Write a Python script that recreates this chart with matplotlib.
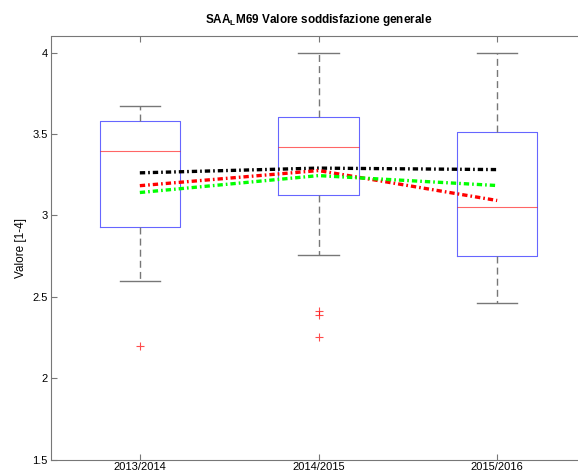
import matplotlib
matplotlib.use("Agg")
import matplotlib.pyplot as plt

plt.rcParams['font.family'] = ['Liberation Sans', 'DejaVu Sans']

# Dati
anni = ['2013/2014', '2014/2015', '2015/2016']
q1 = [2.93, 3.125, 2.75]
mediana = [3.395, 3.42, 3.055]
q3 = [3.58, 3.605, 3.51]
baffo_basso = [2.60, 2.76, 2.465]
baffo_alto = [3.67, 4.00, 4.00]
outlier = [[2.20], [2.41, 2.39, 2.25], []]

media_nera = [3.262, 3.291, 3.282]
media_rossa = [3.183, 3.276, 3.092]
media_verde = [3.141, 3.245, 3.184]

# Statistiche per bxp
stats = []
for i in range(len(anni)):
    stats.append({'med': mediana[i], 'q1': q1[i], 'q3': q3[i],
                  'whislo': baffo_basso[i], 'whishi': baffo_alto[i],
                  'fliers': outlier[i], 'label': anni[i]})

fig = plt.figure(figsize=(5.78, 4.75), dpi=100)
ax = fig.add_axes([50.5 / 578, 15.5 / 475, 536 / 578, 423 / 475])

pos = [1, 2, 3]
ax.bxp(stats, positions=pos, widths=0.45, showcaps=True,
       boxprops=dict(color='#0000ff', linewidth=0.8, alpha=0.6),
       medianprops=dict(color='#ff0000', linewidth=0.8, alpha=0.6),
       whiskerprops=dict(color='#777777', linewidth=1.0, linestyle=(0, (5, 3))),
       capprops=dict(color='#777777', linewidth=1.0),
       flierprops=dict(marker='+', markeredgecolor='#ff0000', markersize=6,
                       markeredgewidth=0.8, alpha=0.7))

tratto = (0, (1.6, 0.9, 0.5, 0.9))
ax.plot(pos, media_nera, color='black', linestyle=tratto, linewidth=2.4)
ax.plot(pos, media_rossa, color='#ff0000', linestyle=tratto, linewidth=2.4)
ax.plot(pos, media_verde, color='#00ff00', linestyle=tratto, linewidth=2.4)

ax.set_xlim(0.5, 3.5)
ax.set_ylim(1.5, 4.1)
ax.set_yticks([1.5, 2, 2.5, 3, 3.5, 4])
ax.set_yticklabels(['1.5', '2', '2.5', '3', '3.5', '4'])
ax.set_xticks(pos)
ax.set_xticklabels(anni)

ax.tick_params(direction='in', labelsize=8, length=4, color='#777777',
               top=True, right=True, pad=2)
for s in ax.spines.values():
    s.set_color('#777777')
    s.set_linewidth(0.8)

ax.set_ylabel('Valore [1-4]', fontsize=8.5)
ax.set_title(r'SAA$_\mathregular{L}$M69 Valore soddisfazione generale',
             fontsize=8.5, fontweight='bold', pad=10)

fig.savefig('out.png', dpi=100)
